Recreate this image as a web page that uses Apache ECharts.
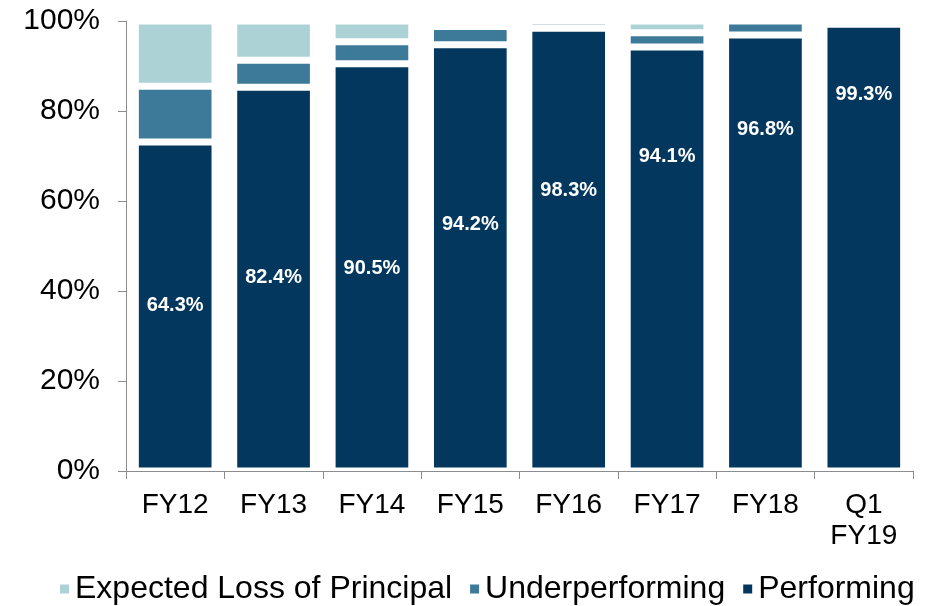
<!DOCTYPE html>
<html>
<head>
<meta charset="utf-8">
<script src="https://cdn.jsdelivr.net/npm/echarts@6/dist/echarts.min.js"></script>
<style>
html,body{margin:0;padding:0;background:#fff;}
#chart{width:928px;height:606px;}
</style>
</head>
<body>
<div id="chart"></div>
<script>
// ---- data ----
const categories = ['FY12', 'FY13', 'FY14', 'FY15', 'FY16', 'FY17', 'FY18', 'Q1\nFY19'];
const performing = [73.1, 85.3, 90.5, 94.7, 98.4, 94.2, 96.9, 99.3];
const underperforming = [12.4, 6.0, 4.9, 4.1, 1.6, 3.2, 3.1, 0];
const expectedLoss = [14.5, 8.7, 4.6, 1.2, 0, 2.6, 0, 0];
// printed label text and the height (axis units) at which each label sits
const labelTexts = ['64.3%', '82.4%', '90.5%', '94.2%', '98.3%', '94.1%', '96.8%', '99.3%'];
const labelAt = [36.7, 42.9, 45.0, 54.7, 62.4, 69.8, 75.9, 83.7];
const yTicks = [0, 20, 40, 60, 80, 100];

const FONT = 'Arial, "Liberation Sans", sans-serif';
const C_PERF = '#03375E';
const C_UNDER = '#3D7A99';
const C_LOSS = '#ADD2D6';
const AXIS = '#8C8C8C';

const chart = echarts.init(document.getElementById('chart'), null, {renderer: 'canvas'});
const barBase = {
  type: 'bar',
  stack: 'total',
  barCategoryGap: '19%',
  itemStyle: {borderColor: '#ffffff', borderWidth: 3.5},
  emphasis: {disabled: true}
};
chart.setOption({
  animation: false,
  backgroundColor: '#ffffff',
  textStyle: {fontFamily: FONT},
  grid: {left: 126, right: 15, top: 21, bottom: 135, containLabel: false},
  legend: {
    data: ['Expected Loss of Principal', 'Underperforming', 'Performing'],
    left: 53, top: 568,
    icon: 'rect', itemWidth: 11, itemHeight: 11, itemGap: 16,
    textStyle: {fontFamily: FONT, fontSize: 32, color: '#000', padding: [0, 0, 0, 0]},
    selectedMode: false
  },
  xAxis: {
    type: 'category',
    data: categories,
    axisLine: {lineStyle: {color: AXIS, width: 1}},
    axisTick: {show: true, length: 8, alignWithLabel: false, lineStyle: {color: AXIS}},
    axisLabel: {color: '#000', fontFamily: FONT, fontSize: 28, margin: 19, lineHeight: 31, interval: 0}
  },
  yAxis: {
    type: 'value',
    min: yTicks[0], max: yTicks[yTicks.length - 1], interval: 20,
    splitLine: {show: false},
    axisLine: {show: true, lineStyle: {color: AXIS, width: 1}},
    axisTick: {show: true, length: 8, lineStyle: {color: AXIS}},
    axisLabel: {color: '#000', fontFamily: FONT, fontSize: 30, margin: 26, formatter: v => v + '%'}
  },
  series: [
    Object.assign({}, barBase, {name: 'Performing', data: performing, itemStyle: Object.assign({}, barBase.itemStyle, {color: C_PERF})}),
    Object.assign({}, barBase, {name: 'Underperforming', data: underperforming, itemStyle: Object.assign({}, barBase.itemStyle, {color: C_UNDER})}),
    Object.assign({}, barBase, {name: 'Expected Loss of Principal', data: expectedLoss, itemStyle: Object.assign({}, barBase.itemStyle, {color: C_LOSS})}),
    {
      name: 'labels', type: 'scatter', data: labelAt, symbolSize: 0, silent: true, z: 10,
      itemStyle: {color: 'transparent', opacity: 1},
      label: {
        show: true, position: 'inside', color: '#ffffff', opacity: 1,
        textBorderWidth: 0, textBorderColor: 'transparent', textShadowBlur: 0,
        fontFamily: FONT, fontWeight: 'bold', fontSize: 20,
        formatter: p => labelTexts[p.dataIndex]
      }
    }
  ]
});
</script>
</body>
</html>
